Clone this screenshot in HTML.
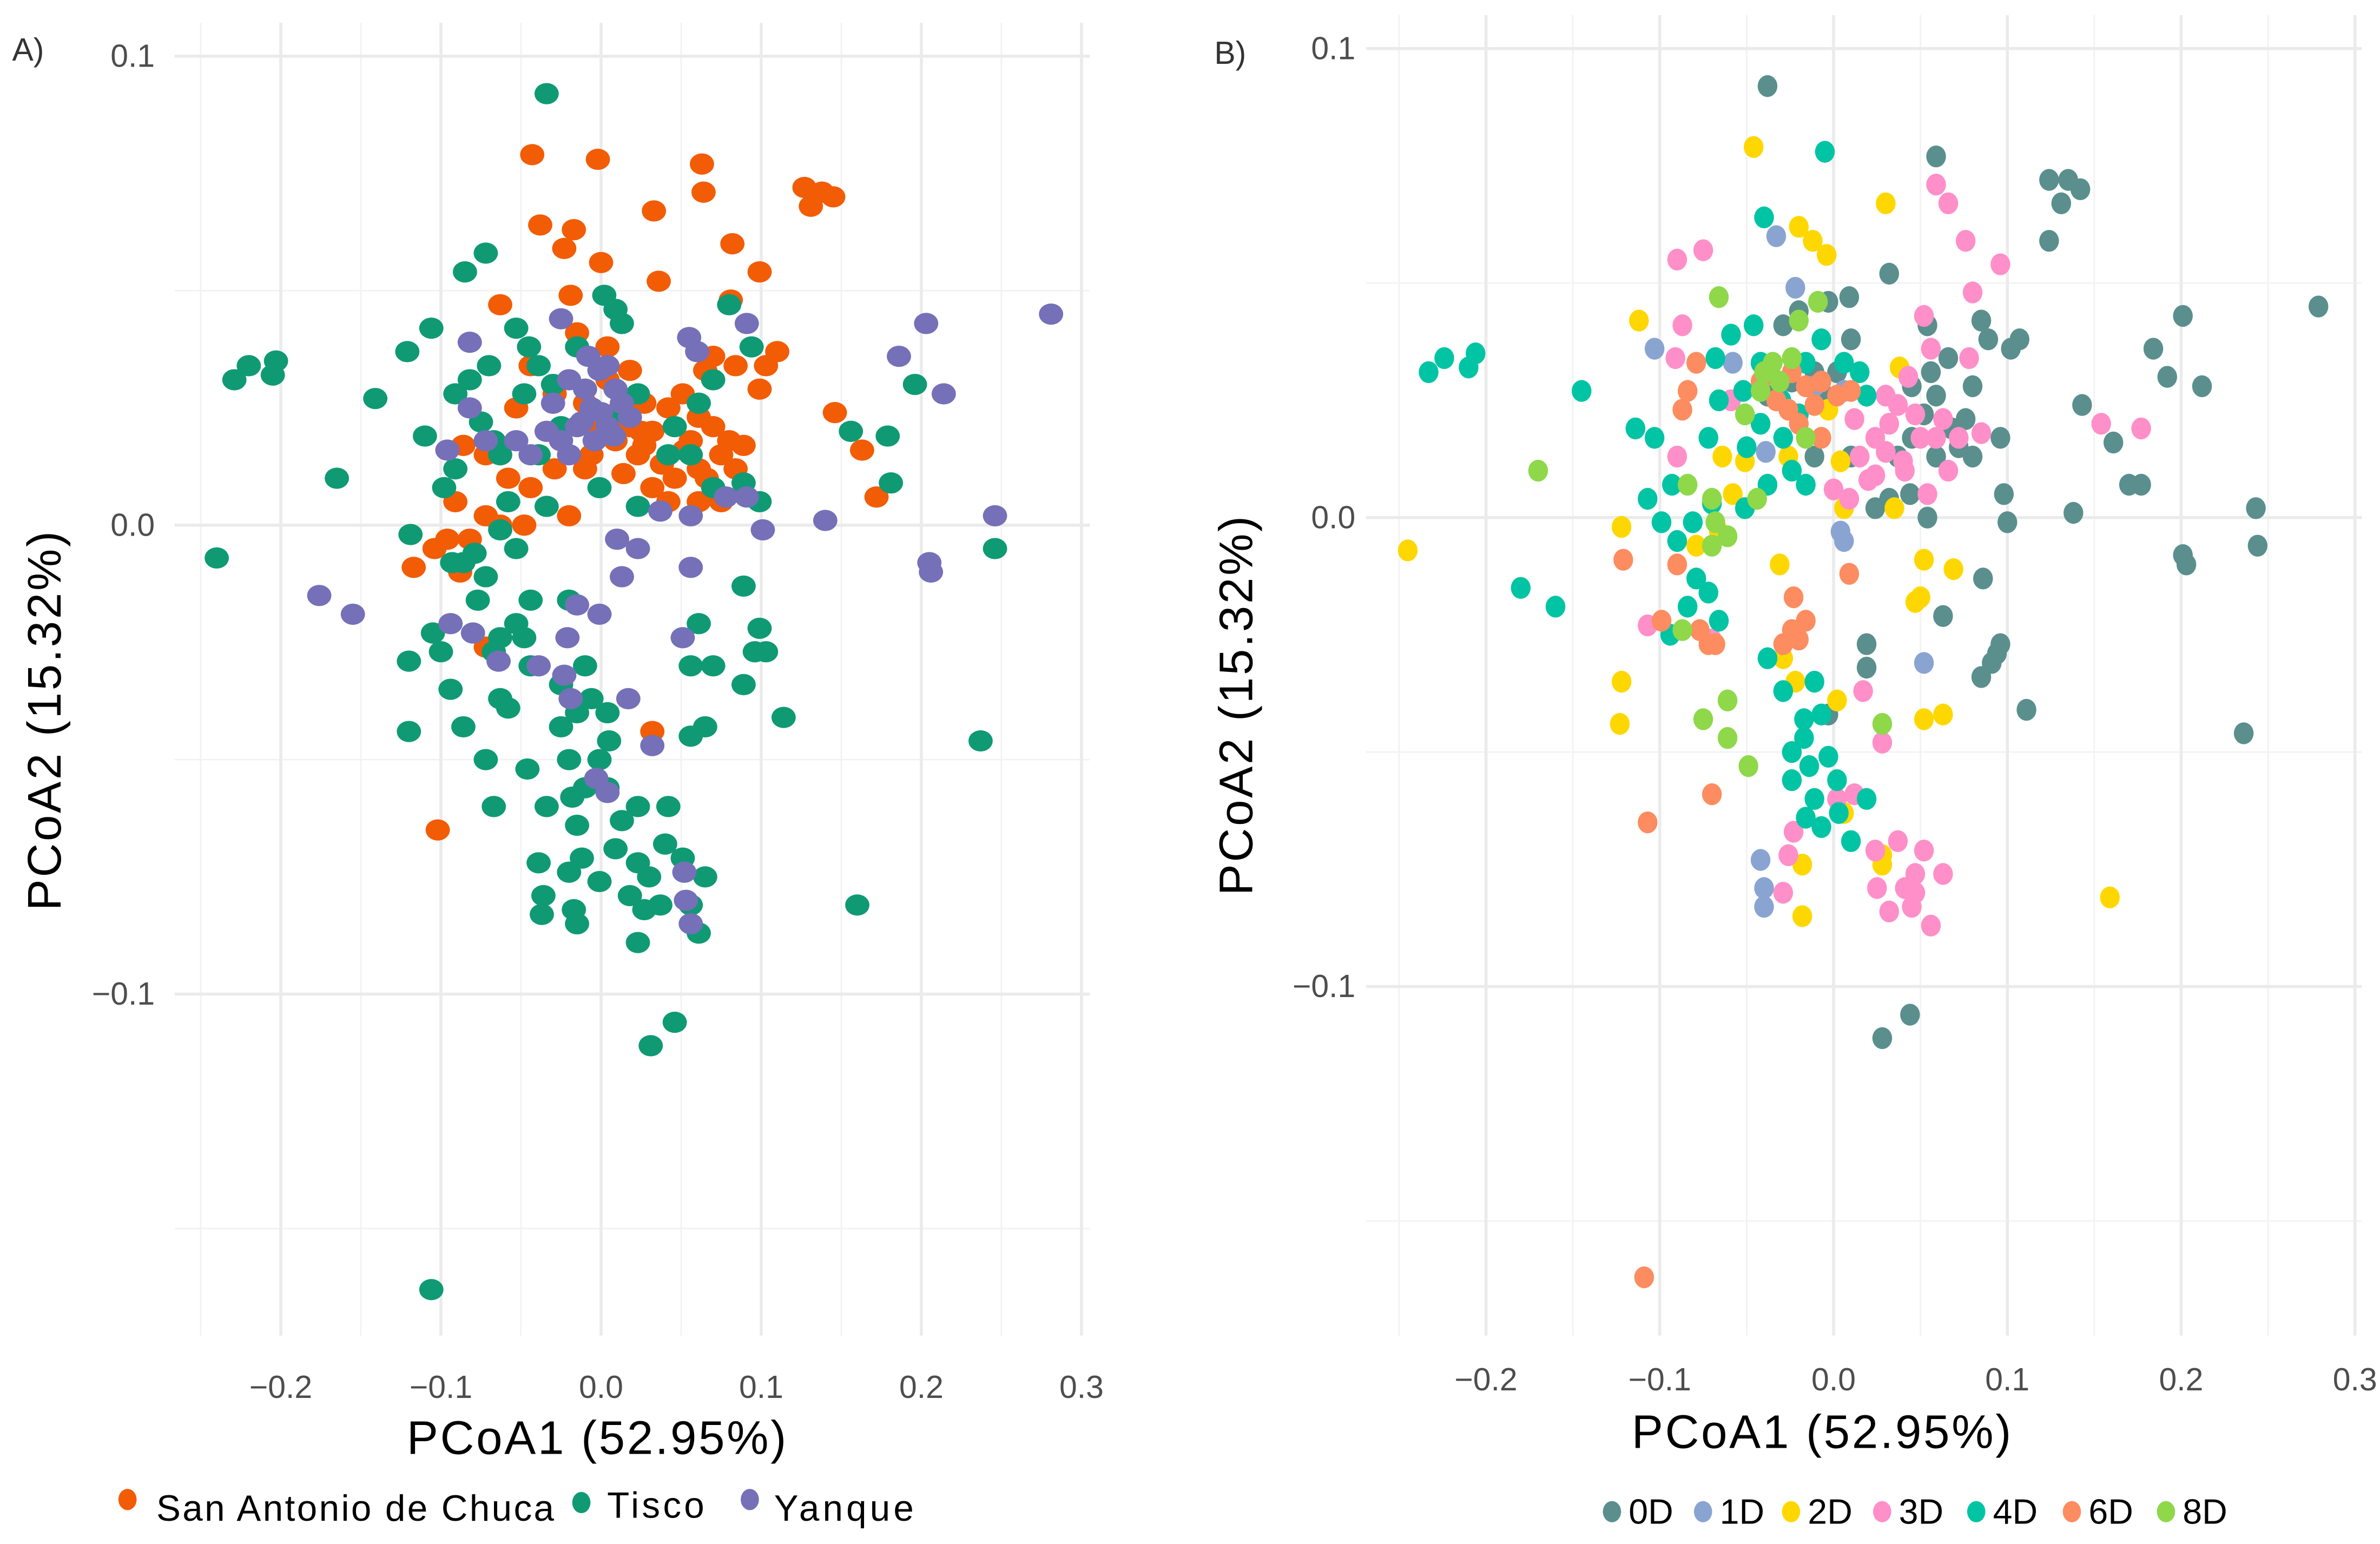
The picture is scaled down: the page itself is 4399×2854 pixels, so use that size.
<!DOCTYPE html>
<html><head><meta charset="utf-8">
<style>
html,body{margin:0;padding:0;background:#fff;}
svg{display:block;}
text{font-family:"Liberation Sans",sans-serif;}
</style></head>
<body>
<svg id="fig" width="4399" height="2854" viewBox="0 0 1568 1017.3" xmlns="http://www.w3.org/2000/svg">
<g id="panelA"></g>
<g id="panelB"></g>
</svg>
<script>
// ---------- Panel A data (PCoA1, PCoA2) by site ----------
const sanX=[-0.043,-0.002,0.063,0.064,0.033,0.127,0.138,0.145,0.131,-0.038,-0.017,-0.023,0,0.082,0.099,0.036,-0.019,-0.063,0.081,0.110,0.146,0.163,0.172,-0.117,-0.088,-0.104,-0.072,0.032,-0.102,0.004,0.018,0.027,0.042,0.051,0.061,0.070,0.080,0.089,0.075,0.061,0.046,0.032,0.042,0.061,0.070,0.065,0.084,0.103,0.099,0.018,0.009,0.027,-0.006,-0.029,-0.044,-0.058,-0.072,-0.086,-0.091,-0.082,-0.096,-0.072,-0.063,-0.048,-0.020,-0.010,-0.010,-0.029,-0.044,-0.053,0.004,-0.015,0.023,0.032,0.056,0.075,0.084,0.010,0.025,0.038,0.052,0.066,-0.008,0.014];
const sanY=[0.079,0.078,0.077,0.071,0.067,0.072,0.071,0.070,0.068,0.064,0.063,0.059,0.056,0.060,0.054,0.052,0.049,0.047,0.048,0.037,0.024,0.016,0.006,-0.009,-0.010,-0.005,-0.026,-0.044,-0.065,0.031,0.033,0.026,0.025,0.028,0.023,0.021,0.018,0.017,0.015,0.012,0.010,0.008,0.005,0.005,0.036,0.033,0.034,0.034,0.029,0.021,0.018,0.017,0.015,0.012,0.008,0.010,0.015,0.017,0.005,-0.003,-0.003,0.002,0.000,0.000,0.002,0.012,0.026,0.028,0.034,0.025,0.038,0.041,0.015,0.020,0.018,0.005,0.012,0.024,0.020,0.013,0.016,0.010,0.022,0.011];
const tisX=[-0.034,-0.240,-0.220,-0.203,-0.229,-0.205,-0.141,-0.165,-0.106,0.046,0.031,0.160,0.237,0.246,0.156,0.179,0.196,0.181,0.114,-0.120,-0.120,-0.119,-0.094,-0.098,-0.105,-0.085,-0.072,-0.121,-0.106,-0.110,-0.070,-0.053,-0.039,-0.015,0.009,0.013,-0.048,-0.063,-0.039,-0.025,0.004,0.023,-0.082,-0.091,-0.058,-0.053,-0.072,-0.063,-0.067,-0.053,-0.044,-0.025,-0.010,-0.015,-0.025,-0.006,0.004,-0.001,-0.020,-0.034,-0.010,0.004,0.013,0.023,0.042,0.040,0.009,-0.015,-0.012,-0.039,-0.020,-0.001,0.023,0.030,0.051,0.065,0.056,0.061,0.037,-0.036,-0.037,-0.015,0.018,0.027,0.056,0.065,0.061,0.089,0.099,0.089,0.070,0.056,0.061,0.070,0.094,0.080,0.099,0.103,0.096,0.089,0.070,0.056,-0.020,-0.044,-0.048,-0.086,-0.072,-0.046,-0.067,-0.063,-0.058,-0.079,-0.063,-0.034,-0.001,0.023,0.042,0.046,0.002,-0.091,-0.067,-0.100,-0.093,-0.077,-0.086,0.023,-0.017,-0.030,-0.045,-0.075,0.005,-0.018];
const tisY=[0.092,-0.007,0.034,0.035,0.031,0.032,0.027,0.010,-0.163,-0.106,-0.111,-0.081,-0.046,-0.005,0.020,0.019,0.030,0.009,-0.041,-0.029,-0.044,-0.002,-0.035,0.008,-0.023,0.054,0.058,0.037,0.042,0.019,0.034,0.042,0.034,0.038,0.046,0.043,0.028,0.015,0.015,0.021,0.023,0.028,0.031,0.028,0.005,-0.005,-0.011,-0.024,-0.027,-0.021,-0.030,-0.034,-0.030,-0.040,-0.043,-0.037,-0.040,-0.050,-0.050,-0.060,-0.056,-0.056,-0.063,-0.060,-0.060,-0.068,-0.069,-0.064,-0.071,-0.072,-0.074,-0.076,-0.072,-0.075,-0.071,-0.075,-0.081,-0.087,-0.081,-0.079,-0.083,-0.085,-0.079,-0.082,-0.045,-0.043,-0.021,-0.013,0.005,0.009,0.008,0.015,0.026,0.031,0.038,0.047,-0.022,-0.027,-0.027,-0.034,-0.030,-0.030,-0.016,-0.016,-0.024,-0.043,-0.050,-0.052,-0.060,-0.037,-0.039,-0.006,-0.001,0.004,0.008,0.004,0.015,0.021,0.049,0.012,0.018,-0.027,-0.008,-0.016,-0.008,-0.089,-0.082,0.030,0.038,0.022,-0.046,-0.058];
const yanX=[0.281,0.203,0.186,0.214,0.246,0.205,0.206,0.140,0.101,0.091,0.091,0.055,0.060,-0.176,-0.155,-0.094,-0.080,-0.064,-0.039,-0.023,-0.021,-0.015,-0.001,0.013,0.010,-0.019,0.017,0.032,-0.003,0.004,0.052,0.053,0.056,0.051,0.056,0.037,0.056,0.023,-0.020,-0.010,-0.001,0.009,0.013,-0.006,-0.015,-0.025,-0.034,0.004,0.018,-0.004,-0.020,-0.044,-0.053,-0.072,-0.082,-0.096,-0.082,-0.025,0.004,0.078,-0.008,0.000,-0.030,-0.012,0.008];
const yanY=[0.045,0.043,0.036,0.028,0.002,-0.008,-0.010,0.001,-0.001,0.006,0.043,0.040,0.037,-0.015,-0.019,-0.021,-0.023,-0.029,-0.030,-0.032,-0.024,-0.017,-0.019,-0.011,-0.003,-0.037,-0.037,-0.047,-0.054,-0.057,-0.074,-0.080,-0.085,-0.024,-0.009,0.003,0.002,-0.005,0.031,0.029,0.033,0.029,0.026,0.025,0.021,0.018,0.020,0.021,0.023,0.018,0.015,0.015,0.018,0.018,0.025,0.016,0.039,0.044,0.034,0.006,0.036,0.024,0.026,0.022,0.019];

// ---------- Panel B data by day ----------
const d0X=[-0.038,0.059,0.124,0.135,0.131,0.142,0.124,0.279,0.201,0.184,0.212,0.192,0.243,0.244,0.201,0.203,0.143,0.161,0.170,0.177,0.138,0.100,0.086,0.111,0.236,0.096,0.094,0.091,0.085,0.063,0.028,0.044,0.045,0.054,0.056,0.066,0.076,0.080,0.072,0.059,0.045,0.080,0.098,0.096,0.085,0.089,0.102,0.107,0.032,0.009,-0.003,-0.020,-0.029,0.010,0.002,-0.011,-0.038,0.019,0.032,0.044,0.024,0.037,0.052,0.059,0.068,0.019,0.019,-0.003,0.054,0.010,-0.011,-0.024,-0.007];
const d0Y=[0.092,0.077,0.072,0.072,0.067,0.070,0.059,0.045,0.043,0.036,0.028,0.030,0.002,-0.006,-0.008,-0.010,0.024,0.016,0.007,0.007,0.001,-0.001,-0.013,-0.041,-0.046,-0.027,-0.029,-0.031,-0.034,-0.021,-0.111,-0.106,0.028,0.041,0.031,0.034,0.021,0.028,0.015,0.013,0.017,0.013,0.005,0.017,0.042,0.038,0.036,0.038,0.052,0.047,0.046,0.044,0.041,0.038,0.031,0.031,0.026,0.026,0.004,0.005,0.002,0.013,0.022,0.026,0.019,-0.027,-0.032,-0.042,0.000,0.013,0.013,0.029,0.027];
const d1X=[-0.033,-0.022,-0.103,-0.058,-0.039,0.004,0.006,0.052,-0.042,-0.040,-0.040,0.006,-0.011];
const d1Y=[0.060,0.049,0.036,0.033,0.014,-0.003,-0.005,-0.031,-0.073,-0.079,-0.083,0.027,0.028];
const d2X=[-0.046,-0.020,-0.012,-0.004,0.030,-0.112,-0.245,-0.122,-0.123,-0.122,-0.064,-0.058,-0.066,-0.079,-0.029,-0.022,-0.018,-0.018,0.006,0.028,0.028,0.050,0.052,0.047,0.063,0.052,0.069,0.035,0.159,0.038,-0.003,0.004,0.006,-0.026,-0.051,0.002,-0.031];
const d2Y=[0.079,0.062,0.059,0.056,0.067,0.042,-0.007,-0.002,-0.044,-0.035,0.013,0.005,-0.003,-0.006,-0.030,-0.035,-0.074,-0.085,-0.063,-0.072,-0.074,-0.017,-0.009,-0.018,-0.042,-0.043,-0.011,0.002,-0.081,0.032,0.023,0.012,0.002,0.013,0.012,-0.039,-0.010];
const d3X=[0.059,0.066,0.076,0.080,0.096,0.052,0.056,0.078,-0.090,-0.075,-0.087,-0.091,-0.059,-0.090,-0.107,-0.070,0.177,0.154,0.037,0.047,0.063,0.072,0.050,0.041,0.032,0.024,0.015,0.012,0.009,0.000,0.024,0.054,0.066,0.059,0.085,0.030,0.043,0.017,0.028,0.012,0.002,-0.023,-0.026,-0.029,0.024,0.037,0.047,0.041,0.045,0.056,0.063,0.047,0.032,0.052,0.025,0.030,0.040,0.020];
const d3Y=[0.071,0.067,0.059,0.048,0.054,0.043,0.036,0.034,0.055,0.057,0.041,0.034,0.025,0.013,-0.023,-0.026,0.019,0.020,0.024,0.022,0.021,0.017,0.017,0.010,0.020,0.017,0.013,0.021,0.004,0.006,0.009,0.005,0.010,0.017,0.018,0.026,0.030,-0.037,-0.048,-0.059,-0.060,-0.067,-0.072,-0.080,-0.071,-0.069,-0.076,-0.079,-0.083,-0.087,-0.076,-0.080,-0.084,-0.071,-0.079,0.014,0.012,0.008];
const d4X=[-0.005,-0.040,-0.233,-0.224,-0.210,-0.206,-0.145,-0.180,-0.160,-0.068,-0.059,-0.046,-0.042,-0.052,-0.066,-0.072,-0.103,-0.114,-0.107,-0.099,-0.090,-0.081,-0.093,-0.070,-0.051,-0.038,-0.024,-0.016,-0.029,-0.042,-0.016,-0.007,0.006,0.015,0.019,-0.079,-0.072,-0.084,-0.094,-0.066,-0.038,-0.029,-0.011,-0.007,-0.017,-0.024,-0.014,-0.003,0.002,-0.011,0.003,-0.016,0.010,-0.024,-0.007,0.019,-0.017,-0.030,-0.020,-0.050];
const d4Y=[0.078,0.064,0.031,0.034,0.032,0.035,0.027,-0.015,-0.019,0.034,0.039,0.041,0.033,0.027,0.025,0.017,0.017,0.019,0.004,-0.001,-0.005,-0.001,0.007,0.003,0.002,0.007,0.010,0.007,0.017,0.020,0.033,0.038,0.033,0.031,0.026,-0.013,-0.016,-0.019,-0.025,-0.022,-0.030,-0.037,-0.035,-0.042,-0.047,-0.050,-0.053,-0.051,-0.056,-0.060,-0.063,-0.064,-0.069,-0.056,-0.066,-0.060,-0.043,0.025,0.022,0.015];
const d6X=[-0.109,-0.107,-0.070,-0.121,-0.099,-0.077,-0.072,-0.068,-0.090,-0.023,-0.016,-0.024,-0.020,-0.029,0.009,-0.084,-0.079,-0.087,-0.024,-0.016,-0.007,0.002,0.010,-0.033,-0.020,-0.007,-0.026,-0.042,-0.011];
const d6Y=[-0.162,-0.065,-0.059,-0.009,-0.022,-0.024,-0.027,-0.027,-0.010,-0.017,-0.022,-0.024,-0.026,-0.027,-0.012,0.027,0.033,0.023,0.031,0.028,0.029,0.026,0.027,0.025,0.020,0.017,0.023,0.029,0.024];
const d8X=[-0.066,-0.170,-0.009,-0.035,-0.040,-0.031,-0.042,-0.051,-0.020,-0.024,-0.068,-0.070,-0.061,-0.070,-0.084,-0.087,-0.061,-0.061,-0.075,-0.049,0.028,-0.044,-0.016];
const d8Y=[0.047,0.010,0.046,0.033,0.031,0.029,0.027,0.022,0.042,0.034,-0.001,-0.006,-0.004,0.004,0.007,-0.024,-0.039,-0.047,-0.043,-0.053,-0.044,0.004,0.017];

const xTicks=[-0.2,-0.1,0.0,0.1,0.2,0.3];
const xTickLabels=["\u22120.2","\u22120.1","0.0","0.1","0.2","0.3"];
const yTicks=[0.1,0.0,-0.1];
const yTickLabels=["0.1","0.0","\u22120.1"];
const xMinor=[-0.25,-0.15,-0.05,0.05,0.15,0.25];
const yMinor=[0.05,-0.05,-0.15];

const NS="http://www.w3.org/2000/svg";
function mk(tag,attrs,parent){const e=document.createElementNS(NS,tag);for(const k in attrs)e.setAttribute(k,attrs[k]);parent.appendChild(e);return e;}

function drawPanel(g,cfg){
  const sx=v=>cfg.x0+v*cfg.kx, sy=v=>cfg.y0-v*cfg.ky;
  xMinor.forEach(v=>{const l=mk('line',{x1:sx(v),x2:sx(v),y1:cfg.top,y2:cfg.bot,stroke:'#f2f2f2','stroke-width':1},g);
    
    });
  yMinor.forEach(v=>{const l=mk('line',{x1:cfg.left,x2:cfg.right,y1:sy(v),y2:sy(v),stroke:'#f2f2f2','stroke-width':1},g);
    
    });
  xTicks.forEach((v,i)=>{const l=mk('line',{x1:sx(v),x2:sx(v),y1:cfg.top,y2:cfg.bot,stroke:'#ebebeb','stroke-width':2},g);
    
    
    const t=mk('text',{x:sx(v),y:cfg.xLabY,'text-anchor':'middle','font-size':21,fill:'#4d4d4d'},g);t.textContent=xTickLabels[i];
    
    });
  yTicks.forEach((v,i)=>{const l=mk('line',{x1:cfg.left,x2:cfg.right,y1:sy(v),y2:sy(v),stroke:'#ebebeb','stroke-width':2},g);
    
    
    const t=mk('text',{x:cfg.yLabX,y:sy(v)+7,'text-anchor':'end','font-size':21,fill:'#4d4d4d'},g);t.textContent=yTickLabels[i];
    
    });
  cfg.series.forEach(s=>{
    const sg=mk('g',{},g);
    
    
    s.xs.forEach((xv,i)=>{const c=mk('ellipse',{cx:sx(xv),cy:sy(s.ys[i]),rx:cfg.rx,ry:cfg.ry,fill:s.color},sg);
      
      });
  });
}

const gA=document.getElementById('panelA');
drawPanel(gA,{x0:396,kx:1055,y0:346,ky:3090,left:115,right:718,top:15,bot:880,xLabY:921,yLabX:102,rx:8,ry:7,
  series:[{name:'san-antonio-points',xs:sanX,ys:sanY,color:'#f25c05'},
          {name:'tisco-points',xs:tisX,ys:tisY,color:'#0f9a74'},
          {name:'yanque-points',xs:yanX,ys:yanY,color:'#7570b8'}]});
const gB=document.getElementById('panelB');
drawPanel(gB,{x0:1208,kx:1145,y0:341,ky:3090,left:900,right:1556,top:10,bot:880,xLabY:916,yLabX:893,rx:6.5,ry:7.2,
  series:[{name:'day-0-points',xs:d0X,ys:d0Y,color:'#5a8f8e'},
          {name:'day-1-points',xs:d1X,ys:d1Y,color:'#8aa4d2'},
          {name:'day-2-points',xs:d2X,ys:d2Y,color:'#ffd700'},
          {name:'day-3-points',xs:d3X,ys:d3Y,color:'#ff8fc8'},
          {name:'day-4-points',xs:d4X,ys:d4Y,color:'#00c4a4'},
          {name:'day-6-points',xs:d6X,ys:d6Y,color:'#fd8c60'},
          {name:'day-8-points',xs:d8X,ys:d8Y,color:'#8ed84a'}]});
</script>
<script>
(function(){
const svg=document.getElementById('fig');
function T(x,y,s,txt,name,extra){const t=document.createElementNS("http://www.w3.org/2000/svg",'text');
t.setAttribute('x',x);t.setAttribute('y',y);t.setAttribute('font-size',s);t.setAttribute('fill','#000');
if(extra)for(const k in extra)t.setAttribute(k,extra[k]);t.textContent=txt;


svg.appendChild(t);return t;}
function D(x,y,c,name){const e=document.createElementNS("http://www.w3.org/2000/svg",'ellipse');
e.setAttribute('cx',x);e.setAttribute('cy',y);e.setAttribute('rx',6);e.setAttribute('ry',7);e.setAttribute('fill',c);


svg.appendChild(e);}
T(8,40,21,'A)','panel-a-label',{fill:'#333'});
T(800,42,21,'B)','panel-b-label',{fill:'#333'});
T(393,958,31,'PCoA1 (52.95%)','panel-a-x-axis-title',{'text-anchor':'middle','textLength':250});
T(1200,954,31,'PCoA1 (52.95%)','panel-b-x-axis-title',{'text-anchor':'middle','textLength':250});
T(0,0,31,'PCoA2 (15.32%)','panel-a-y-axis-title',{'text-anchor':'middle','textLength':250,transform:'translate(40,475) rotate(-90)'});
T(0,0,31,'PCoA2 (15.32%)','panel-b-y-axis-title',{'text-anchor':'middle','textLength':250,transform:'translate(825,465) rotate(-90)'});
D(84,988,'#f25c05','legend-san-antonio-marker');T(103,1002,24,'San Antonio de Chuca','legend-san-antonio-label',{textLength:262});
D(383,990,'#0f9a74','legend-tisco-marker');T(400,1000,24,'Tisco','legend-tisco-label',{textLength:64});
D(494,988,'#7570b8','legend-yanque-marker');T(510,1002,24,'Yanque','legend-yanque-label',{textLength:92});
const lb=[['0D','#5a8f8e',1062],['1D','#8aa4d2',1122],['2D','#ffd700',1180],['3D','#ff8fc8',1240],['4D','#00c4a4',1302],['6D','#fd8c60',1365],['8D','#8ed84a',1427]];
lb.forEach(l=>{D(l[2],996,l[1],'legend-'+l[0].toLowerCase()+'-marker');T(l[2]+11,1004,23,l[0],'legend-'+l[0].toLowerCase()+'-label');});
})();
</script>
</body></html>
